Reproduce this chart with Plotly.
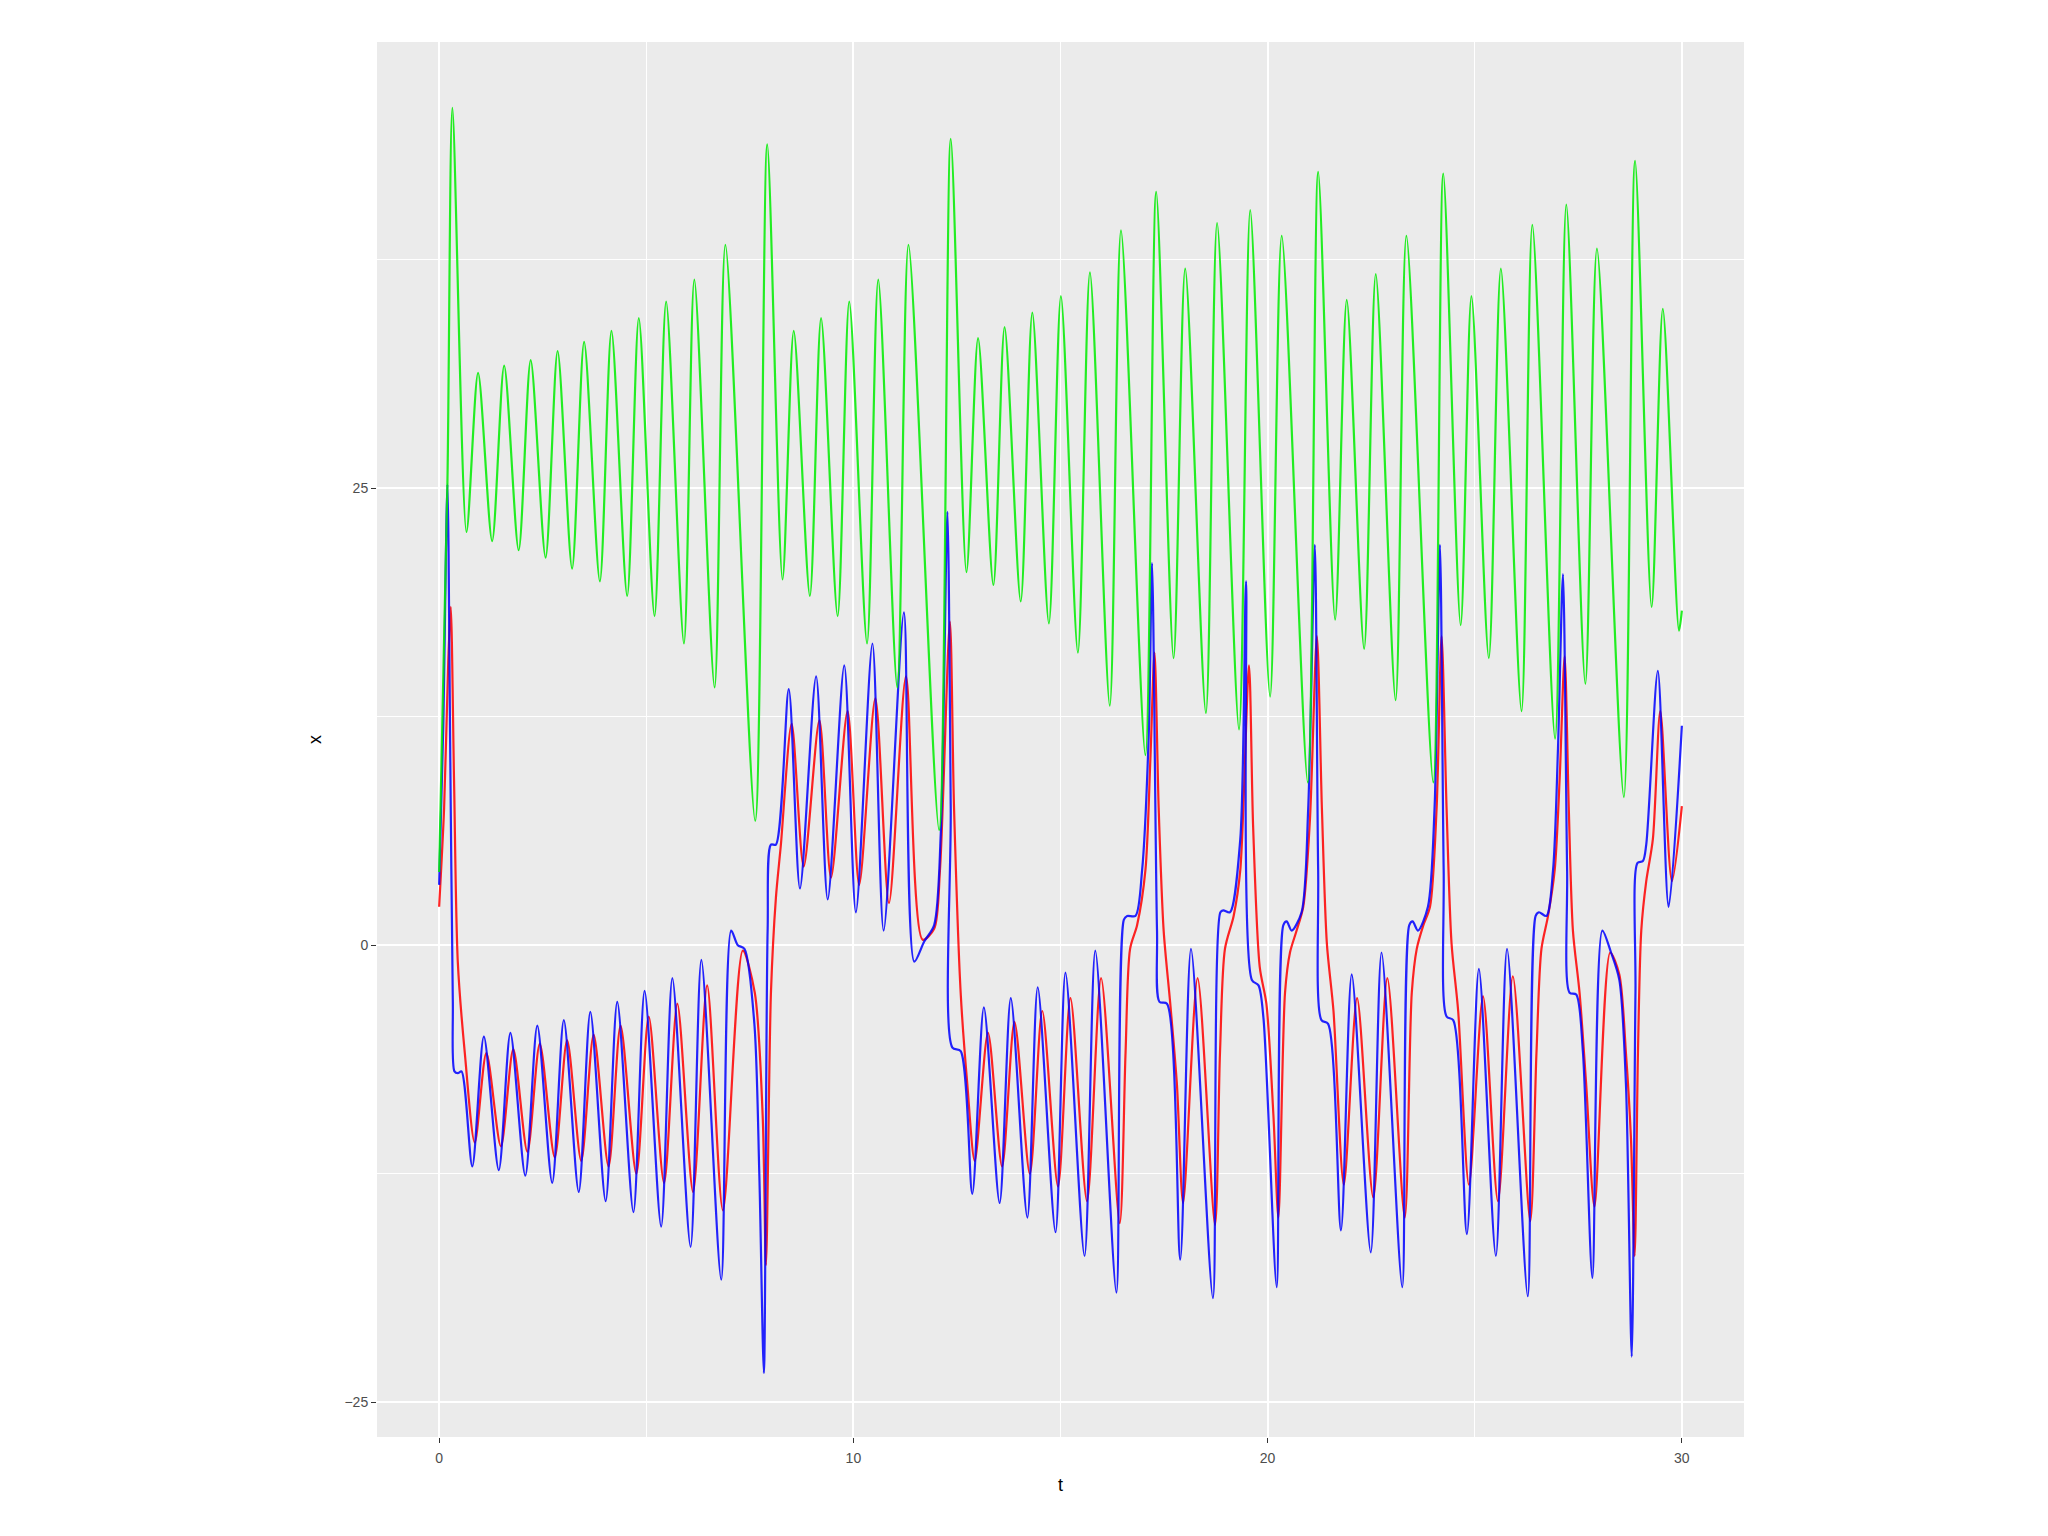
import plotly.graph_objects as go

# x (red)
t_x = [0.00, 0.12, 0.22, 0.28, 0.36, 0.45, 0.62, 0.86, 1.14, 1.49, 1.79, 2.13, 2.43, 2.79, 3.09, 3.43,
       3.73, 4.09, 4.38, 4.76, 5.06, 5.43, 5.75, 6.13, 6.47, 6.85, 7.33, 7.62, 7.81, 7.89, 8.01, 8.13,
       8.25, 8.51, 8.80, 9.18, 9.46, 9.86, 10.14, 10.53, 10.86, 11.27, 11.67, 11.95, 12.09, 12.33, 12.43,
       12.59, 12.75, 12.93, 13.25, 13.59, 13.89, 14.26, 14.56, 14.94, 15.24, 15.64, 15.98, 16.43, 16.57,
       16.68, 16.85, 17.05, 17.17, 17.27, 17.37, 17.49, 17.65, 17.81, 17.96, 18.31, 18.73, 18.85, 18.97,
       19.18, 19.34, 19.55, 19.65, 19.81, 19.97, 20.14, 20.26, 20.42, 20.54, 20.70, 20.86, 21.02, 21.19,
       21.31, 21.43, 21.59, 21.84, 22.16, 22.55, 22.89, 23.31, 23.48, 23.60, 23.76, 23.92, 24.08, 24.20,
       24.32, 24.44, 24.60, 24.86, 25.20, 25.56, 25.92, 26.34, 26.49, 26.61, 26.77, 26.93, 27.05, 27.17,
       27.27, 27.37, 27.53, 27.69, 27.89, 28.27, 28.49, 28.65, 28.77, 28.86, 28.94, 29.02, 29.14, 29.30,
       29.48, 29.76, 30.00]
x_vals = [2.1, 7.5, 15.5, 18.5, 9.0, -0.9, -5.9, -10.8, -5.9, -11.0, -5.7, -11.3, -5.4, -11.6, -5.2, -11.8,
          -4.9, -12.1, -4.4, -12.5, -3.9, -13.0, -3.2, -13.5, -2.2, -14.5, -0.3, -2.6, -9.3, -17.5, -2.6, 2.6,
          5.5, 12.1, 4.3, 12.3, 3.7, 12.8, 3.3, 13.5, 2.3, 14.7, 0.3, 0.9, 4.1, 17.7, 7.5,
          -2.6, -7.6, -11.8, -4.8, -12.1, -4.2, -12.5, -3.6, -13.2, -2.9, -14.0, -1.8, -15.2, -5.9,
          -0.2, 1.1, 4.1, 10.2, 16.0, 7.5, 0.8, -3.2, -7.6, -14.1, -1.8, -15.3, -5.9, -0.2,
          1.6, 4.1, 15.3, 6.5, -1.2, -3.2, -9.3, -14.9, -2.6, -0.4, 0.8, 2.1, 6.8, 16.9,
          7.5, 0.1, -3.6, -13.1, -2.9, -13.8, -1.8, -14.9, -2.6, -0.2, 1.1, 2.1, 7.5, 16.9,
          7.5, 0.1, -3.6, -13.1, -2.8, -14.0, -1.7, -15.1, -5.9, -0.2, 1.6, 4.1, 9.1, 15.8,
          7.5, 0.8, -2.6, -7.6, -14.3, -0.4, -1.6, -5.9, -10.5, -17.0, -5.9, 0.8, 3.5, 5.8,
          12.8, 3.5, 7.6]

# y (blue)
t_y = [0.00, 0.10, 0.20, 0.27, 0.33, 0.37, 0.45, 0.54, 0.80, 1.08, 1.44, 1.72, 2.08, 2.37, 2.73, 3.01,
       3.37, 3.65, 4.02, 4.30, 4.69, 4.96, 5.36, 5.63, 6.07, 6.33, 6.81, 7.05, 7.21, 7.37, 7.61, 7.73,
       7.84, 7.93, 8.01, 8.13, 8.44, 8.71, 9.10, 9.38, 9.78, 10.06, 10.46, 10.73, 11.22, 11.47, 11.71,
       11.95, 12.11, 12.27, 12.35, 12.39, 12.59, 12.87, 13.15, 13.53, 13.80, 14.20, 14.45, 14.88, 15.12,
       15.58, 15.84, 16.35, 16.53, 16.61, 16.81, 16.97, 17.13, 17.21, 17.33, 17.39, 17.57, 17.89, 18.15,
       18.68, 18.86, 18.93, 19.09, 19.34, 19.48, 19.62, 19.78, 19.90, 20.22, 20.38, 20.46, 20.58, 20.82,
       20.98, 21.14, 21.22, 21.30, 21.46, 21.77, 22.03, 22.49, 22.75, 23.25, 23.42, 23.50, 23.63, 23.87,
       24.03, 24.16, 24.25, 24.32, 24.48, 24.81, 25.10, 25.51, 25.78, 26.28, 26.47, 26.55, 26.73, 26.89,
       27.01, 27.13, 27.23, 27.29, 27.45, 27.61, 27.84, 28.08, 28.29, 28.49, 28.65, 28.79, 28.88, 28.93,
       29.06, 29.14, 29.42, 29.68, 30.00]
y_vals = [3.3, 12.0, 25.2, 10.0, -3.0, -6.9, -7.0, -6.9, -12.1, -5.0, -12.3, -4.8, -12.6, -4.4, -13.0, -4.1,
          -13.5, -3.65, -14.0, -3.1, -14.6, -2.5, -15.4, -1.8, -16.5, -0.8, -18.3, 0.8, 0.0, -0.2, -4.3, -12.6,
          -23.4, 0.8, 5.5, 5.5, 14.0, 3.1, 14.7, 2.5, 15.3, 1.8, 16.5, 0.8, 18.2, -0.9, 0.2,
          1.1, 6.1, 23.7, 7.5, -5.6, -5.8, -13.6, -3.4, -14.1, -2.9, -14.9, -2.3, -15.7, -1.5,
          -17.0, -0.3, -19.0, 1.4, 1.6, 1.6, 4.1, 11.5, 20.9, 0.8, -3.1, -3.2, -17.2, -0.2,
          -19.3, 1.8, 1.9, 1.8, 5.8, 19.9, -1.9, -2.2, -4.0, -18.7, 1.1, 1.3, 0.8, 1.8,
          7.5, 21.9, 4.1, -4.1, -4.3, -15.6, -1.6, -16.8, -0.4, -18.7, 1.1, 1.3, 0.8, 2.1,
          7.5, 21.9, 4.1, -3.9, -4.1, -15.8, -1.3, -17.0, -0.2, -19.2, 1.6, 1.8, 1.6, 4.1,
          10.8, 20.3, 4.1, -2.6, -2.7, -5.8, -18.2, 0.8, -0.4, -1.9, -7.6, -22.5, -2.6, 4.5,
          4.6, 5.5, 15.0, 2.1, 12.0]

# z (green)
t_z = [0.00, 0.20, 0.32, 0.66, 0.94, 1.28, 1.57, 1.92, 2.21, 2.57, 2.86, 3.21, 3.50, 3.88, 4.16, 4.54,
       4.82, 5.20, 5.48, 5.91, 6.16, 6.65, 6.91, 7.63, 7.92, 8.29, 8.56, 8.95, 9.22, 9.62, 9.90, 10.33,
       10.60, 11.06, 11.33, 12.07, 12.35, 12.73, 13.01, 13.38, 13.65, 14.04, 14.32, 14.72, 15.01, 15.42,
       15.71, 16.19, 16.46, 17.05, 17.31, 17.73, 18.01, 18.51, 18.78, 19.31, 19.58, 20.06, 20.34, 20.97,
       21.22, 21.63, 21.91, 22.33, 22.61, 23.09, 23.35, 24.00, 24.24, 24.66, 24.92, 25.34, 25.63, 26.13,
       26.39, 26.94, 27.21, 27.67, 27.95, 28.60, 28.87, 29.27, 29.54, 29.93, 30.00]
z_vals = [4.0, 25.3, 45.8, 22.6, 31.3, 22.1, 31.7, 21.6, 32.0, 21.2, 32.5, 20.6, 33.0, 19.9, 33.6, 19.1,
          34.3, 18.0, 35.2, 16.5, 36.4, 14.1, 38.3, 6.8, 43.8, 20.0, 33.6, 19.1, 34.3, 18.0, 35.2, 16.5,
          36.4, 14.1, 38.3, 6.3, 44.1, 20.4, 33.2, 19.7, 33.8, 18.8, 34.6, 17.6, 35.5, 16.0,
          36.8, 13.1, 39.1, 10.4, 41.2, 15.7, 37.0, 12.7, 39.5, 11.8, 40.2, 13.6, 38.8, 8.9,
          42.3, 17.8, 35.3, 16.2, 36.7, 13.4, 38.8, 8.9, 42.2, 17.5, 35.5, 15.7, 37.0, 12.8,
          39.4, 11.3, 40.5, 14.3, 38.1, 8.1, 42.9, 18.5, 34.8, 17.2, 18.3]

x_ticks = [0, 10, 20, 30]
y_ticks = [-25, 0, 25]

fig = go.Figure()
for tt, vv, col in [(t_x, x_vals, "#FF0000"), (t_y, y_vals, "#0000FF"), (t_z, z_vals, "#00EE00")]:
    fig.add_trace(go.Scatter(x=tt, y=vv, mode="lines",
                             line=dict(color=col, width=2.2, shape="spline", smoothing=0.8),
                             opacity=0.85, hoverinfo="skip"))

tickfont = dict(family="Liberation Sans, Arial, sans-serif", size=14, color="#4D4D4D")
titlefont = dict(family="Liberation Sans, Arial, sans-serif", size=18, color="#000000")

fig.update_layout(
    width=2032, height=1520,
    margin=dict(l=369, r=296, t=34, b=91),
    paper_bgcolor="white", plot_bgcolor="#EBEBEB",
    showlegend=False,
    xaxis=dict(range=[-1.5, 31.5], tickmode="array", tickvals=x_ticks,
               showgrid=True, gridcolor="white", gridwidth=2.4, zeroline=False,
               ticks="outside", ticklen=5, tickwidth=1.3, tickcolor="#333333",
               tickfont=tickfont, showline=False, ticklabelstandoff=3,
               title=dict(text="t", font=titlefont, standoff=13),
               minor=dict(tick0=0, dtick=5, showgrid=True, gridcolor="white", gridwidth=1.1)),
    yaxis=dict(range=[-26.9, 49.4], tickmode="array", tickvals=y_ticks,
               showgrid=True, gridcolor="white", gridwidth=2.4, zeroline=False,
               ticks="outside", ticklen=5, tickwidth=1.3, tickcolor="#333333",
               tickfont=tickfont, showline=False,
               title=dict(text="x", font=titlefont, standoff=18),
               minor=dict(tick0=0, dtick=12.5, showgrid=True, gridcolor="white", gridwidth=1.1)),
)

fig.write_html("out.html")
